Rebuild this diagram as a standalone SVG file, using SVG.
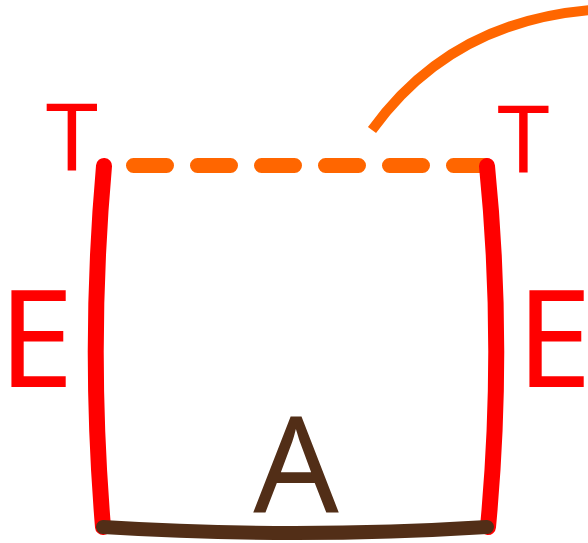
<svg xmlns="http://www.w3.org/2000/svg" width="588" height="543" viewBox="0 0 588 543">
<style>
.lbl{font-family:"Noto Sans","DejaVu Sans",sans-serif;text-anchor:middle}
.red{fill:#ff0000}
.brown{fill:#522e17}
.edge{fill:none;stroke-linecap:round}
</style>
<rect width="588" height="543" fill="#ffffff"/>
<g id="connectors">
<path id="arc" d="M372,130 Q450,22 590,10" fill="none" stroke="#ff6600" stroke-width="10"/>
<path id="top" class="edge" d="M133.5,165.5 H486.5" stroke="#ff6600" stroke-width="15" stroke-dasharray="33 31"/>
<path id="left" class="edge" d="M104,166 Q88,346 103,527" stroke="#ff0000" stroke-width="16"/>
<path id="right" class="edge" d="M487,166 Q505,346 488,527" stroke="#ff0000" stroke-width="16"/>
<path id="bottom" class="edge" d="M103,527 Q295,539 487,527" stroke="#522e17" stroke-width="14"/>
</g>
<g id="T-left"><text class="lbl red" x="72" y="170" font-size="94">T</text></g>
<g id="T-right"><text class="lbl red" x="523.5" y="172" font-size="94">T</text></g>
<g id="E-left"><text class="lbl red" x="36" y="387" font-size="136">E</text></g>
<g id="E-right"><text class="lbl red" x="554" y="387" font-size="136">E</text></g>
<g id="A"><text class="lbl brown" x="296" y="513" font-size="134">A</text></g>
</svg>
